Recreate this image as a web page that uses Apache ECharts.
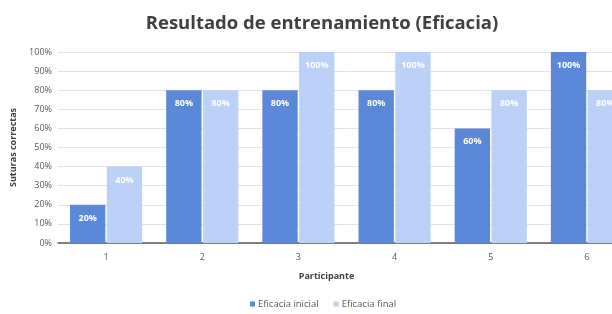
<!DOCTYPE html>
<html>
<head>
<meta charset="utf-8">
<script src="https://cdn.jsdelivr.net/npm/echarts@6/dist/echarts.min.js"></script>
<style>
  html, body { margin: 0; padding: 0; background: #fff; overflow: hidden; }
  /* the chart in the reference is cut off on the right, so the canvas is wider than the window */
  #main { width: 640px; height: 314px; }
</style>
</head>
<body>
<div id="main"></div>
<script>
var participantes = ['1', '2', '3', '4', '5', '6'];
var eficaciaInicial = [20, 80, 80, 80, 60, 100];
var eficaciaFinal = [40, 80, 100, 100, 80, 80];

var myChart = echarts.init(document.getElementById('main'));

var etiqueta = {
    show: true,
    position: 'insideTop',
    distance: 9,
    color: '#fff',
    fontWeight: 'bold',
    fontSize: 9,
    fontFamily: 'Open Sans',
    formatter: '{c}%'
};

var option = {
    animation: false,
    title: {
        text: 'Resultado de entrenamiento (Eficacia)',
        left: 317,
        textAlign: 'center',
        top: 9,
        textStyle: { fontFamily: 'Open Sans', fontSize: 18.5, fontWeight: 'bold', color: '#404040' }
    },
    legend: {
        data: ['Eficacia inicial', 'Eficacia final'],
        left: 245,
        top: 294,
        itemWidth: 5,
        itemHeight: 5,
        itemGap: 15,
        icon: 'rect',
        textStyle: { fontFamily: 'Open Sans', fontSize: 9.5, color: '#595959', padding: [0, 0, 0, -2] }
    },
    grid: { left: 58, top: 52, width: 577, height: 191 },
    xAxis: {
        type: 'category',
        data: participantes,
        name: 'Participante',
        nameLocation: 'middle',
        nameGap: 29,
        nameTextStyle: { fontFamily: 'Open Sans', fontSize: 9, fontWeight: 'bold', color: '#404040', padding: [0, 0, 0, -40] },
        axisLine: { lineStyle: { color: '#595959', width: 1.5 } },
        axisTick: { show: false },
        axisLabel: { fontFamily: 'Open Sans', fontSize: 9, color: '#595959', margin: 10 }
    },
    yAxis: {
        type: 'value',
        min: 0,
        max: 100,
        interval: 10,
        name: 'Suturas correctas',
        nameLocation: 'middle',
        nameGap: 39,
        nameTextStyle: { fontFamily: 'Open Sans', fontSize: 9, fontWeight: 'bold', color: '#404040' },
        axisLabel: { formatter: '{value}%', fontFamily: 'Open Sans', fontSize: 9, color: '#595959', margin: 6 },
        axisLine: { show: false },
        axisTick: { show: false },
        splitLine: { lineStyle: { color: '#e3e3e3' } }
    },
    series: [{
        name: 'Eficacia inicial',
        type: 'bar',
        data: eficaciaInicial,
        barCategoryGap: '25%',
        barGap: '4%',
        itemStyle: { color: '#5b89d8' },
        label: etiqueta
    }, {
        name: 'Eficacia final',
        type: 'bar',
        data: eficaciaFinal,
        itemStyle: { color: '#bcd1f8' },
        label: etiqueta
    }]
};

myChart.setOption(option);
</script>
</body>
</html>
